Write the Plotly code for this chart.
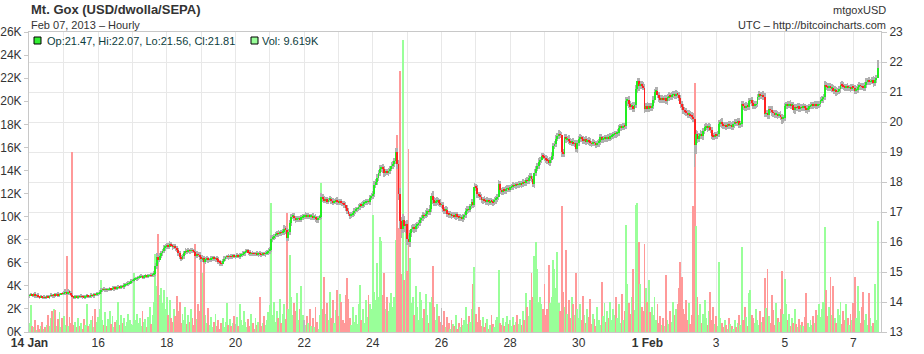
import pandas as pd
import plotly.graph_objects as go

# ---------------- data (hourly, from 2013-01-14 00:00 UTC) ----------------
start_time = "2013-01-14 00:00"
first_open = 14.20

close_by_day = [
    [14.22,14.25,14.22,14.24,14.20,14.23,14.18,14.15,14.17,14.14,14.16,14.15,14.18,14.16,14.20,14.22,14.20,14.24,14.22,14.25,14.23,14.26,14.28,14.27],
    [14.30,14.33,14.28,14.35,14.30,14.25,14.18,14.15,14.18,14.16,14.19,14.17,14.20,14.18,14.16,14.19,14.21,14.18,14.20,14.22,14.21,14.25,14.24,14.27],
    [14.28,14.32,14.40,14.42,14.41,14.43,14.40,14.42,14.44,14.43,14.45,14.47,14.46,14.48,14.50,14.49,14.52,14.51,14.55,14.58,14.60,14.62,14.66,14.70],
    [14.72,14.76,14.78,14.80,14.82,14.84,14.86,14.83,14.85,14.87,14.86,14.88,14.90,14.88,14.92,14.95,15.20,15.50,15.40,15.55,15.62,15.70,15.80,15.85],
    [15.90,15.85,15.92,15.88,15.84,15.86,15.80,15.75,15.62,15.50,15.45,15.52,15.65,15.70,15.68,15.72,15.70,15.73,15.70,15.68,15.55,15.60,15.58,15.50],
    [15.42,15.48,15.35,15.42,15.45,15.40,15.43,15.45,15.48,15.44,15.46,15.42,15.35,15.30,15.28,15.38,15.45,15.50,15.52,15.50,15.53,15.51,15.54,15.52],
    [15.52,15.55,15.53,15.56,15.58,15.60,15.64,15.68,15.72,15.66,15.60,15.62,15.61,15.60,15.62,15.59,15.61,15.60,15.58,15.61,15.60,15.62,15.66,15.70],
    [15.75,16.10,16.15,16.20,16.25,16.30,16.28,16.32,16.30,16.35,16.45,16.40,16.12,16.35,16.62,16.85,16.88,16.80,16.74,16.78,16.80,16.76,16.82,16.86],
    [16.86,16.90,16.85,16.88,16.84,16.87,16.82,16.85,16.78,16.74,16.80,16.85,17.50,17.45,17.38,17.42,17.36,17.40,17.44,17.38,17.33,17.36,17.40,17.35],
    [17.32,17.35,17.30,17.28,17.25,17.15,17.05,16.95,16.88,16.92,16.98,17.05,17.10,17.12,17.18,17.24,17.22,17.28,17.32,17.35,17.36,17.34,17.48,17.52],
    [17.60,17.90,18.00,18.15,18.30,18.45,18.50,18.42,18.30,18.35,18.32,18.38,18.45,18.55,18.60,18.70,19.00,18.60,17.60,16.70,16.45,16.75,16.55,16.60],
    [16.10,16.00,16.30,16.45,16.50,16.45,16.55,16.58,16.62,16.75,16.80,16.90,16.88,16.95,17.02,17.00,17.10,17.55,17.40,17.30,17.35,17.40,17.30,17.25],
    [17.25,17.10,17.05,17.08,16.95,16.90,16.92,16.88,16.90,16.86,16.92,16.85,16.80,16.82,16.78,16.85,16.90,17.05,17.10,17.08,17.20,17.35,17.25,17.85],
    [17.80,17.60,17.55,17.50,17.40,17.42,17.38,17.35,17.40,17.33,17.38,17.35,17.32,17.40,17.45,17.50,17.95,17.72,17.68,17.75,17.70,17.78,17.80,17.76],
    [17.82,17.85,17.90,17.88,17.92,17.90,17.93,17.95,17.92,18.00,17.98,18.06,18.04,18.15,18.20,18.10,17.92,18.30,18.45,18.55,18.68,18.75,18.88,18.85],
    [18.80,18.75,18.72,18.65,18.74,18.88,19.20,19.28,19.45,19.55,19.60,19.58,19.00,18.95,19.50,19.42,19.45,19.38,19.32,19.35,19.28,19.30,19.10,19.30],
    [19.45,19.50,19.42,19.38,19.42,19.36,19.40,19.35,19.30,19.28,19.32,19.30,19.26,19.30,19.35,19.50,19.40,19.45,19.48,19.44,19.50,19.46,19.52,19.55],
    [19.58,19.62,19.60,19.65,19.80,19.85,19.82,19.88,19.86,20.70,20.75,20.60,20.50,20.55,20.45,20.58,21.10,21.36,21.20,21.28,21.20,21.15,20.45,20.55],
    [20.45,20.52,20.48,20.55,20.75,21.00,21.05,20.90,20.80,20.75,20.78,20.76,20.80,20.70,20.82,20.88,20.85,20.90,20.92,20.88,20.95,20.90,20.80,20.60],
    [20.50,20.40,20.35,20.30,20.25,20.28,20.22,20.18,20.10,19.25,19.60,19.45,19.55,19.60,19.52,19.70,19.82,19.85,19.80,19.85,19.72,19.55,19.50,19.58],
    [19.55,19.60,19.95,20.00,19.92,19.88,19.90,19.86,19.92,19.88,19.90,19.85,19.92,20.00,19.98,20.02,19.90,19.95,20.60,20.52,20.48,20.55,20.50,20.70],
    [20.72,20.65,20.55,20.58,20.60,20.85,20.92,20.88,20.90,20.85,20.28,20.30,20.22,20.42,20.40,20.32,20.30,20.25,20.28,20.22,20.25,20.18,20.10,20.15],
    [20.55,20.58,20.56,20.60,20.55,20.58,20.40,20.50,20.48,20.52,20.45,20.50,20.48,20.52,20.47,20.40,20.46,20.52,20.55,20.58,20.56,20.60,20.55,20.58],
    [20.60,20.72,20.76,20.85,21.25,21.18,21.15,21.20,21.12,21.15,21.05,21.08,21.00,21.02,21.10,21.25,21.22,21.18,21.15,21.18,21.14,21.16,21.12,21.18],
    [21.15,21.05,21.08,21.18,21.22,21.20,21.18,21.15,21.25,21.35,21.38,21.34,21.36,21.40,21.30,21.40,21.47,21.81],
]

# wick extension above / below the candle body, in cents
wick_hi_by_day = [
    [4,6,3,5,8,4,6,3,5,4,7,3,5,6,4,8,5,3,6,4,7,5,3,6],
    [6,9,4,10,5,7,4,3,6,4,5,3,7,4,5,3,6,4,5,8,4,6,5,7],
    [5,8,6,4,7,5,3,6,5,4,8,5,6,4,7,5,4,6,8,5,6,7,5,8],
    [6,5,7,4,6,5,8,4,5,6,4,7,5,6,4,8,10,12,8,7,9,6,10,8],
    [8,6,10,7,5,9,6,8,5,7,6,8,5,9,6,7,5,8,6,7,5,9,6,8],
    [6,8,5,7,9,6,5,8,6,7,5,6,8,5,7,6,9,5,6,8,5,7,6,5],
    [6,7,5,8,6,9,7,10,6,5,7,6,8,5,6,7,5,9,6,7,5,8,6,9],
    [8,12,9,7,10,8,9,6,8,10,12,9,7,10,12,9,8,10,7,9,8,7,9,8],
    [7,9,6,8,7,5,9,6,8,10,7,6,12,10,8,9,7,8,10,7,9,8,6,9],
    [8,7,9,6,8,10,7,9,6,8,7,9,8,6,10,7,9,8,7,9,8,6,9,12],
    [10,12,9,11,10,12,8,9,10,7,9,8,10,12,9,10,13,12,15,20,15,18,12,10],
    [12,15,10,12,9,11,10,8,12,9,10,11,8,12,10,9,12,10,15,9,11,10,8,12],
    [9,10,8,11,9,7,10,8,9,11,7,9,8,10,9,7,10,8,9,11,8,10,9,12],
    [10,9,8,11,9,7,10,8,9,7,10,8,9,11,8,10,12,9,8,10,9,8,10,9],
    [9,8,10,7,9,8,10,9,7,10,8,9,10,8,9,11,10,12,9,10,11,9,10,8],
    [10,9,11,8,10,12,10,9,11,10,12,9,10,11,9,10,8,11,9,10,12,9,10,11],
    [9,10,8,11,9,10,8,9,11,8,10,9,8,10,9,11,10,9,10,8,9,10,11,9],
    [10,8,9,11,10,9,8,10,9,12,10,11,9,10,12,10,12,10,11,9,10,12,11,10],
    [12,10,11,9,12,10,13,11,10,9,11,10,9,11,10,12,9,11,10,12,11,10,9,11],
    [10,11,9,12,10,11,9,10,12,10,12,11,10,12,9,11,10,12,9,11,10,12,9,10],
    [10,9,11,10,12,9,10,11,9,10,12,9,10,11,9,10,12,10,11,9,10,12,9,11],
    [9,11,10,12,9,10,11,9,10,12,11,10,9,11,10,12,9,10,11,9,10,11,9,10],
    [10,9,11,10,12,9,10,11,9,10,12,9,10,11,9,10,12,9,11,10,9,11,10,12],
    [9,10,12,9,11,10,12,9,10,11,9,12,10,11,9,10,12,11,9,10,11,9,12,10],
    [10,9,11,10,12,9,10,11,9,12,10,11,9,10,12,9,11,26],
]
wick_lo_by_day = [
    [5,3,6,4,7,5,4,6,3,5,4,6,5,3,7,4,6,5,4,3,6,5,4,5],
    [4,6,5,3,7,5,6,4,5,3,6,4,5,7,3,5,4,6,3,5,4,6,5,4],
    [6,4,5,7,4,6,5,3,6,5,4,7,5,6,4,5,6,4,7,5,4,6,5,6],
    [5,6,4,7,5,6,4,5,7,4,6,5,4,6,5,7,8,9,12,8,7,9,8,10],
    [9,7,8,6,9,7,10,8,9,7,8,6,9,7,8,6,9,7,8,6,10,7,8,9],
    [7,9,6,8,7,9,6,8,7,6,9,7,8,10,9,7,6,8,7,9,6,8,7,6],
    [8,6,7,9,6,8,7,9,6,8,7,6,9,7,8,6,9,7,8,6,7,9,6,8],
    [9,8,10,8,9,7,10,8,9,7,10,12,9,8,10,9,8,10,9,8,10,9,8,10],
    [8,10,9,7,8,10,9,8,10,12,9,8,7,10,9,8,10,9,8,10,9,7,8,10],
    [9,8,10,9,11,10,12,9,10,8,9,11,10,9,8,10,9,8,10,9,11,8,10,9],
    [10,9,11,10,12,9,10,11,12,10,9,11,10,9,12,10,11,15,20,25,30,15,20,25],
    [20,10,15,12,10,14,12,10,11,9,12,10,11,9,12,10,11,9,12,10,11,12,10,9],
    [10,9,11,10,12,9,10,11,9,10,12,9,10,11,9,10,12,9,10,11,9,10,12,9],
    [10,12,9,11,10,12,9,11,10,12,9,10,11,9,12,10,9,11,10,12,9,10,11,9],
    [9,10,12,9,10,11,9,10,12,9,11,10,9,12,10,11,9,12,10,9,11,10,12,9],
    [11,10,12,9,11,10,12,10,11,9,12,10,15,11,10,12,9,11,10,12,9,11,10,12],
    [10,12,9,11,10,12,9,11,10,12,9,10,11,9,12,10,11,9,12,10,11,9,10,12],
    [11,10,12,9,11,10,12,9,11,10,15,12,11,10,12,11,10,12,15,11,10,9,15,10],
    [12,10,11,12,10,12,11,10,12,11,10,12,11,10,12,11,10,12,11,10,12,11,10,12],
    [11,12,10,11,12,10,11,12,10,75,30,15,12,11,10,12,11,10,12,11,10,12,11,10],
    [12,11,10,12,11,10,12,11,10,12,11,10,12,11,10,12,11,10,12,11,10,12,11,10],
    [11,12,10,11,12,10,11,12,10,11,12,10,11,12,10,11,12,10,11,12,10,11,15,12],
    [10,12,11,10,12,11,10,12,11,10,12,11,10,12,11,10,12,11,10,12,11,10,12,11],
    [12,11,10,12,11,10,12,11,10,12,11,10,12,11,10,12,11,10,12,11,10,12,11,10],
    [11,10,12,11,10,12,11,10,12,11,10,12,11,10,12,11,10,0],
]

# volume in thousands of BTC
volume_k_by_day = [
    [0.8,2.3,0.5,0.4,1.0,0.2,0.6,0.3,0.5,0.9,0.3,0.4,0.6,1.5,0.5,1.2,1.8,2.0,1.9,0.5,1.1,1.7,0.4,1.2],
    [1.4,0.6,6.6,0.5,1.3,0.8,15.6,0.6,0.9,0.4,1.2,0.5,0.8,0.3,1.1,0.6,2.4,0.5,0.7,1.0,1.4,0.4,2.0,0.9],
    [1.3,2.0,4.5,1.0,0.6,1.7,0.5,1.1,1.8,0.7,1.4,0.4,0.9,1.0,2.6,0.6,1.5,0.8,1.2,0.5,0.9,1.6,1.0,0.7],
    [0.6,5.1,1.0,1.6,0.8,1.2,0.5,1.8,0.9,1.1,0.4,1.3,2.2,0.7,1.5,2.6,6.8,4.0,8.5,3.2,3.8,2.5,3.6,2.0],
    [3.0,1.5,2.8,1.2,0.9,2.0,1.4,3.1,1.8,2.6,0.8,1.6,1.0,2.2,0.7,1.5,0.9,2.0,1.2,0.6,7.6,1.1,2.4,1.8],
    [6.5,5.1,6.3,1.5,0.8,2.1,0.6,1.3,0.4,0.9,1.6,0.5,1.0,0.3,0.8,1.2,0.4,0.9,2.5,0.6,1.1,0.5,0.8,1.4],
    [0.7,1.3,0.5,2.4,1.0,0.6,1.8,0.9,0.4,1.1,0.5,1.6,0.8,0.3,1.2,0.6,0.9,3.0,0.5,0.8,1.4,0.6,1.0,1.7],
    [2.3,11.2,1.5,2.6,0.9,1.8,1.2,2.9,0.8,1.6,2.4,1.1,10.3,2.0,6.7,3.0,1.5,2.5,1.8,3.4,1.0,2.0,4.0,1.5],
    [1.0,0.6,1.4,0.8,2.0,0.5,1.2,0.4,2.2,0.9,0.3,1.5,12.9,2.0,4.8,1.6,2.5,1.0,3.5,1.2,2.8,0.8,1.9,3.6],
    [1.4,3.3,2.6,1.0,0.8,3.2,4.7,2.9,1.2,0.6,2.2,0.9,1.5,0.7,2.4,4.1,1.0,2.0,0.8,2.8,1.3,3.2,2.4,2.0],
    [10.1,3.5,2.8,6.0,3.0,8.2,7.9,3.2,5.1,2.0,3.0,1.8,2.5,3.4,2.2,3.0,8.0,17.1,9.0,22.6,5.0,25.3,4.5,9.1],
    [5.3,15.9,6.4,2.5,3.0,1.5,4.0,2.2,1.0,3.5,2.8,1.2,2.0,3.3,1.5,0.8,2.6,3.0,5.7,2.2,1.0,2.4,1.4,0.9],
    [2.1,0.6,1.8,0.4,1.3,0.8,0.3,1.0,0.7,0.5,1.5,0.3,0.8,0.4,1.2,0.6,1.0,2.2,0.7,1.4,0.9,2.0,4.2,5.6],
    [1.6,0.9,2.2,1.0,0.5,1.3,0.4,0.8,1.1,0.3,0.6,1.5,0.7,0.4,1.0,1.3,5.4,0.8,0.6,1.2,0.5,0.9,1.4,0.7],
    [1.0,0.5,1.3,0.6,0.9,1.5,0.7,1.1,0.6,1.8,1.0,3.4,2.2,1.4,2.8,5.1,3.0,6.6,7.8,5.5,2.6,3.0,2.4,2.0],
    [4.2,1.5,2.0,5.8,2.5,3.0,6.2,5.5,3.8,6.9,2.5,1.8,10.9,3.5,2.2,7.1,1.6,2.8,1.2,3.0,2.4,1.5,5.1,2.0],
    [1.2,2.4,1.0,3.1,1.5,0.8,2.0,1.3,2.9,0.7,1.6,1.1,0.5,2.2,1.0,0.6,4.3,1.4,2.5,0.9,1.8,1.2,2.6,1.0],
    [2.0,1.5,3.0,1.2,2.4,0.8,3.3,1.0,1.8,9.3,4.2,2.5,1.6,3.0,5.5,1.9,11.0,11.2,7.8,4.2,2.2,1.8,7.6,3.8],
    [2.6,4.5,1.7,2.2,1.5,3.0,1.0,2.4,0.8,1.4,0.6,1.2,0.5,4.9,1.0,0.7,1.8,0.9,2.6,1.5,2.0,2.4,3.8,6.1],
    [4.8,2.0,1.6,2.8,1.0,2.5,0.7,1.5,10.9,21.6,9.2,3.0,1.5,2.4,0.8,1.6,2.8,1.2,0.6,1.8,3.5,1.0,2.2,0.7],
    [1.4,0.5,6.1,1.2,0.8,0.4,1.0,0.6,0.3,1.2,0.7,0.5,0.3,1.0,0.4,0.8,1.5,0.6,7.4,1.0,2.2,1.3,0.5,3.4],
    [3.6,1.5,1.2,0.8,2.0,1.0,0.6,1.8,0.9,1.3,4.7,2.1,5.5,1.4,0.8,3.2,1.9,0.6,2.5,1.2,0.9,2.0,5.3,1.6],
    [4.6,2.4,1.0,1.6,0.5,1.2,0.8,2.0,0.7,0.4,1.1,0.6,0.9,0.5,1.3,3.4,0.8,0.4,1.0,0.6,1.4,0.8,1.9,1.5],
    [2.4,1.3,2.0,2.6,9.1,3.6,1.4,2.2,4.8,1.5,4.0,1.2,0.8,2.0,1.5,2.6,0.7,1.8,1.0,2.4,1.2,0.6,1.6,1.0],
    [2.5,4.8,1.2,4.0,1.8,0.8,2.2,3.5,1.0,1.6,0.6,3.4,1.2,0.5,0.8,4.2,1.0,9.619],
]

day_ticks = pd.date_range("2013-01-14", "2013-02-07", freq="D")
day_labels = ["<b>14 Jan</b>", "", "16", "", "18", "", "20", "", "22", "", "24", "", "26", "",
              "28", "", "30", "", "<b>1 Feb</b>", "", "3", "", "5", "", "7"]
vol_ticks = list(range(0, 26001, 2000))
price_ticks = list(range(13, 24))

title_text = "Mt. Gox (USD/dwolla/SEPA)"
subtitle_text = "Feb 07, 2013 \u2013 Hourly"
symbol_text = "mtgoxUSD"
source_text = "UTC \u2013 http://bitcoincharts.com"
ohlc_text = "Op:21.47, Hi:22.07, Lo:21.56, Cl:21.81"
vol_text = "Vol: 9.619K"

# ---------------- derived series ----------------
close = [v for d in close_by_day for v in d]
hi_c = [v for d in wick_hi_by_day for v in d]
lo_c = [v for d in wick_lo_by_day for v in d]
vol = [v * 1000 for d in volume_k_by_day for v in d]
n = len(close)
times = pd.date_range(start_time, periods=n, freq="h")
opens = [first_open] + close[:-1]
high = [max(o, c) + h / 100 for o, c, h in zip(opens, close, hi_c)]
low = [min(o, c) - l / 100 for o, c, l in zip(opens, close, lo_c)]
body_base = [min(o, c) for o, c in zip(opens, close)]
body_h = [max(abs(c - o), 0.012) for o, c in zip(opens, close)]

UP, DN = "#22ee22", "#ff2222"
VUP, VDN, VEQ = "#99ff99", "#ff9999", "#bbbbbb"
body_col = [UP if c >= o else DN for o, c in zip(opens, close)]
vol_col = [VUP if c > o else (VDN if c < o else VEQ) for o, c in zip(opens, close)]

HOUR_MS = 3600 * 1000

fig = go.Figure()
fig.add_trace(go.Bar(x=times, y=vol, marker=dict(color=vol_col, line=dict(width=0)),
                     width=0.6 * HOUR_MS, yaxis="y", hoverinfo="skip"))
fig.add_trace(go.Bar(x=times, y=[h - l for h, l in zip(high, low)], base=low,
                     marker=dict(color="#b0b0b0", line=dict(width=0)),
                     width=0.45 * HOUR_MS, yaxis="y2", hoverinfo="skip"))
fig.add_trace(go.Bar(x=times, y=body_h, base=body_base,
                     marker=dict(color=body_col, line=dict(width=0)),
                     width=0.62 * HOUR_MS, yaxis="y2", hoverinfo="skip"))

x0 = pd.Timestamp(start_time) - pd.Timedelta(minutes=21)
x1 = pd.Timestamp(start_time) + pd.Timedelta(minutes=int(595.3 * 60))

FONT = "Liberation Sans, Arial, sans-serif"
AX = "#c8c8c8"
GRID = "#e8e8e8"
TXT = "#333333"

fig.update_layout(
    width=924, height=354,
    margin=dict(l=29, r=43, t=32, b=22, autoexpand=False),
    paper_bgcolor="white", plot_bgcolor="white",
    barmode="overlay", bargap=0, showlegend=False,
    font=dict(family=FONT, size=12, color=TXT),
    xaxis=dict(type="date", range=[x0, x1], tickvals=day_ticks, ticktext=day_labels,
               automargin=False,
               showgrid=True, gridcolor=GRID, gridwidth=1, showline=True, linecolor=AX,
               mirror=True, ticks="", tickfont=dict(size=12, color=TXT), zeroline=False),
    yaxis=dict(range=[0, 26000], tickvals=vol_ticks, automargin=False,
               ticktext=[f"{v // 1000}K" for v in vol_ticks],
               showgrid=False, showline=True, linecolor=AX, ticks="outside", ticklen=4,
               tickcolor=AX, zeroline=False, tickfont=dict(size=12, color=TXT)),
    yaxis2=dict(range=[13, 23], tickvals=price_ticks, overlaying="y", side="right",
                automargin=False,
                showgrid=True, gridcolor=GRID, showline=True, linecolor=AX, ticks="outside",
                ticklen=5, tickcolor=AX, zeroline=False, tickfont=dict(size=12, color=TXT)),
)

def px_x(px):
    return (px - 29) / 852.0

def px_y(py):
    return (332 - py) / 300.0

ann = [
    dict(text=f"<b>{title_text}</b>", x=px_x(29), y=px_y(9), xanchor="left", yanchor="middle",
         font=dict(size=13, color=TXT)),
    dict(text=subtitle_text, x=px_x(29), y=px_y(24.5), xanchor="left", yanchor="middle",
         font=dict(size=11, color=TXT)),
    dict(text=symbol_text, x=px_x(888), y=px_y(10), xanchor="right", yanchor="middle",
         font=dict(size=11, color=TXT)),
    dict(text=source_text, x=px_x(888), y=px_y(25), xanchor="right", yanchor="middle",
         font=dict(size=11, color=TXT)),
    dict(text=ohlc_text, x=px_x(45), y=px_y(40.5), xanchor="left", yanchor="middle",
         font=dict(size=11, color="#0d3d3d")),
    dict(text=vol_text, x=px_x(260), y=px_y(40.5), xanchor="left", yanchor="middle",
         font=dict(size=11, color="#0d3d3d")),
]
for a in ann:
    a.update(xref="paper", yref="paper", showarrow=False)
fig.update_layout(annotations=ann)

fig.add_shape(type="rect", xref="paper", yref="paper", x0=px_x(34), x1=px_x(41),
              y0=px_y(44), y1=px_y(37), fillcolor="#33ee33", line=dict(color="#000000", width=1))
fig.add_shape(type="rect", xref="paper", yref="paper", x0=px_x(251), x1=px_x(258),
              y0=px_y(44), y1=px_y(37), fillcolor="#99ff99", line=dict(color="#000000", width=1))

fig.write_html("out.html")
